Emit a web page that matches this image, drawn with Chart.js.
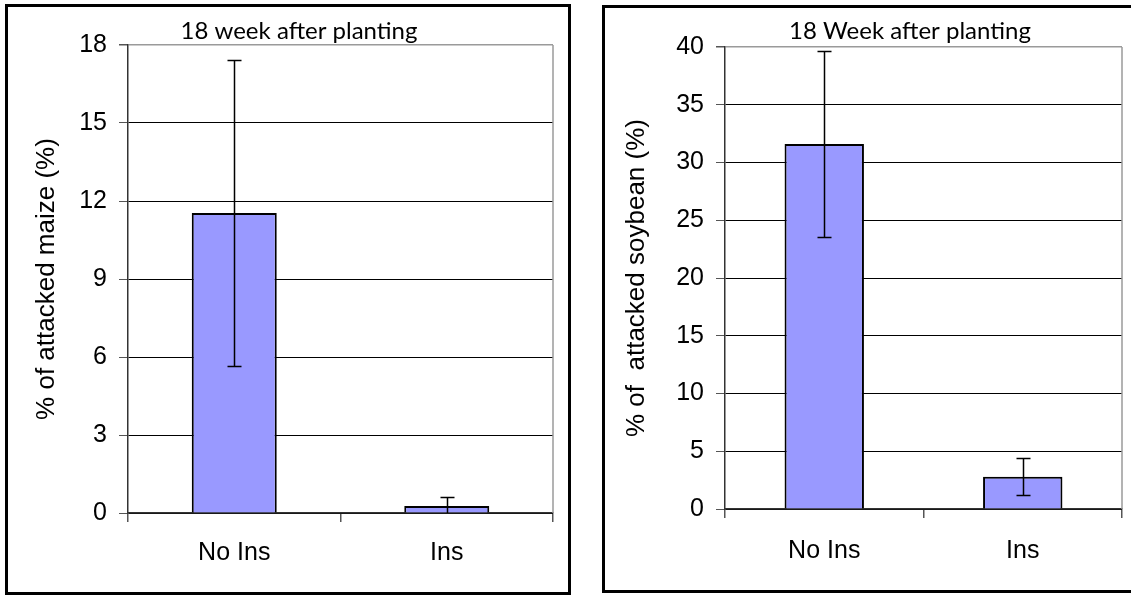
<!DOCTYPE html>
<html>
<head>
<meta charset="utf-8">
<script src="https://cdn.jsdelivr.net/npm/chart.js@4/dist/chart.umd.min.js"></script>
<style>
  html, body { margin: 0; padding: 0; background: #fff; }
  #page { position: relative; width: 1131px; height: 595px; overflow: hidden; background: #fff; }
  .panel { position: absolute; border: 3px solid #000; box-sizing: border-box; }
  #panelMaize { left: 5px; top: 4px; width: 566px; height: 591px; }
  #panelSoy { left: 602px; top: 5px; width: 545px; height: 588px; }
  canvas { position: absolute; top: 0; }
  #maizeChart { left: 0; }
  #soyChart { left: 580px; }
</style>
</head>
<body>
<div id="page">
  <div class="panel" id="panelMaize"></div>
  <div class="panel" id="panelSoy"></div>
  <canvas id="maizeChart" width="575" height="595"></canvas>
  <canvas id="soyChart" width="551" height="595"></canvas>
</div>
<script>
// Treatments
const categories = ['No Ins', 'Ins'];

// Maize: mean % attacked plants and error (±)
const maizeMeans = [11.54, 0.27];
const maizeErrors = [5.9, 0.36];
const maizeAxis = { min: 0, max: 18, step: 3 };

// Soybean: mean % attacked plants and error (±)
const soyMeans = [31.6, 2.8];
const soyErrors = [8.05, 1.58];
const soyAxis = { min: 0, max: 40, step: 5 };

const ARIAL = "'Liberation Sans', Arial, sans-serif";
const TITLE_FONT = "Lato, 'Open Sans', sans-serif";

// Whiskers drawn from each bar's value ± its error
const errorBars = {
  id: 'errorBars',
  afterDatasetsDraw(chart, args, opts) {
    const { ctx, chartArea } = chart;
    const y = chart.scales.y;
    const meta = chart.getDatasetMeta(0);
    const vals = chart.data.datasets[0].data;
    ctx.save();
    ctx.beginPath();
    ctx.rect(chartArea.left, chartArea.top - 30, chartArea.right - chartArea.left, chartArea.bottom - chartArea.top + 30);
    ctx.clip();
    ctx.strokeStyle = '#000';
    ctx.lineWidth = 1.5;
    const half = 7;
    meta.data.forEach((bar, i) => {
      const x = Math.round(bar.x) + 0.5;
      const hi = Math.round(y.getPixelForValue(vals[i] + opts.errors[i])) + 0.5;
      const lo = Math.round(y.getPixelForValue(vals[i] - opts.errors[i])) + 0.5;
      ctx.beginPath();
      ctx.moveTo(x, hi); ctx.lineTo(x, lo);
      ctx.moveTo(x - half, hi); ctx.lineTo(x + half, hi);
      ctx.moveTo(x - half, lo); ctx.lineTo(x + half, lo);
      ctx.stroke();
    });
    ctx.restore();
  }
};

// Grey right-hand edge of the plot area
const plotFrame = {
  id: 'plotFrame',
  beforeDatasetsDraw(chart) {
    const { ctx, chartArea } = chart;
    ctx.save();
    ctx.strokeStyle = '#9a9a9a';
    ctx.lineWidth = 1.5;
    ctx.beginPath();
    ctx.moveTo(chartArea.right, chartArea.top);
    ctx.lineTo(chartArea.right, chartArea.bottom);
    ctx.stroke();
    ctx.restore();
  }
};

// Panel heading placed above the plot area
const panelHeading = {
  id: 'panelHeading',
  afterDraw(chart, args, opts) {
    const { ctx } = chart;
    ctx.save();
    ctx.font = opts.size + 'px ' + TITLE_FONT;
    ctx.fillStyle = '#000';
    ctx.textAlign = 'center';
    ctx.textBaseline = 'alphabetic';
    ctx.fillText(opts.text, opts.x, opts.y);
    ctx.restore();
  }
};

function makeChart(id, means, errors, axis, yTitle, heading, geom) {
  return new Chart(document.getElementById(id), {
    type: 'bar',
    data: {
      labels: categories,
      datasets: [{
        data: means,
        backgroundColor: '#9999ff',
        borderColor: '#000',
        borderWidth: 2,
        categoryPercentage: 1,
        barPercentage: 0.4
      }]
    },
    options: {
      responsive: false,
      animation: false,
      devicePixelRatio: 1,
      layout: { padding: { top: geom.top, right: geom.right, left: 0, bottom: 0 } },
      plugins: {
        legend: { display: false },
        tooltip: { enabled: false },
        errorBars: { errors: errors },
        panelHeading: heading
      },
      scales: {
        x: {
          afterFit: s => { s.height = geom.xHeight; },
          grid: { drawOnChartArea: false, drawTicks: true, tickLength: 9, offset: true, color: '#555', lineWidth: 1.5 },
          border: { color: '#333', width: 1.5 },
          ticks: { color: '#000', padding: geom.xPad, font: { family: ARIAL, size: 25 } }
        },
        y: {
          min: axis.min,
          max: axis.max,
          afterFit: s => { s.width = geom.yWidth; },
          ticks: { stepSize: axis.step, color: '#000', padding: 12, font: { family: ARIAL, size: 25 } },
          grid: {
            color: c => (c.tick && c.tick.value === axis.max) ? '#9a9a9a' : '#000',
            lineWidth: c => (c.tick && c.tick.value === axis.max) ? 1.5 : 1,
            tickLength: 9,
            tickColor: '#555'
          },
          border: { color: '#333', width: 1.5 },
          title: {
            display: true,
            text: yTitle,
            color: '#000',
            font: { family: ARIAL, size: 26 },
            padding: { top: geom.titlePad, bottom: 0 }
          }
        }
      }
    },
    plugins: [plotFrame, errorBars, panelHeading]
  });
}

makeChart('maizeChart', maizeMeans, maizeErrors, maizeAxis,
  '% of attacked maize (%)',
  { text: '18 week after planting', x: 299, y: 39, size: 24 },
  { top: 45, right: 22, xHeight: 82, yWidth: 128, xPad: 16, titlePad: 31 });

makeChart('soyChart', soyMeans, soyErrors, soyAxis,
  '% of  attacked soybean (%)',
  { text: '18 Week after planting', x: 330, y: 39, size: 24 },
  { top: 47, right: 9, xHeight: 86, yWidth: 145, xPad: 18, titlePad: 41 });
</script>
</body>
</html>
